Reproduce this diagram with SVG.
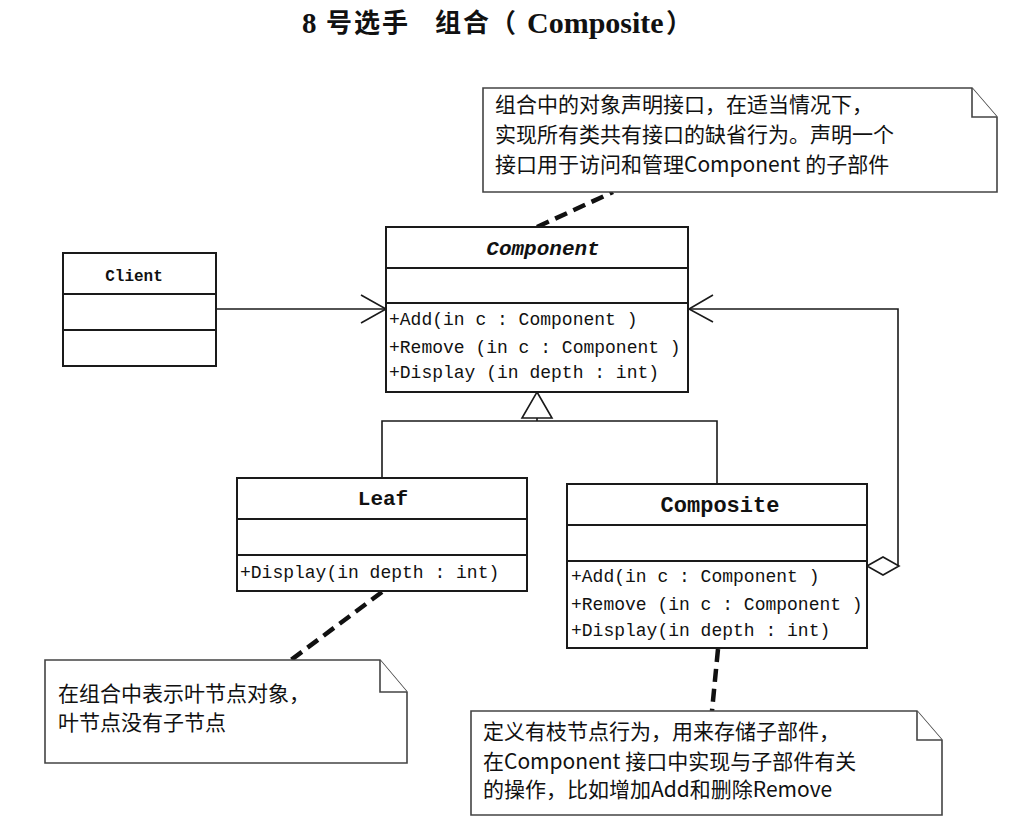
<svg xmlns="http://www.w3.org/2000/svg" width="1017" height="837" viewBox="0 0 1017 837">
<style>
.box{fill:#fff;stroke:#1a1a1a;stroke-width:2}
.div{stroke:#1a1a1a;stroke-width:2}
.note{fill:#fff;stroke:#444;stroke-width:1.6}
.line{fill:none;stroke:#1a1a1a;stroke-width:1.6}
.dash{fill:none;stroke:#111;stroke-width:4.5;stroke-dasharray:13 7}
.name{font-family:"Liberation Mono",monospace;font-weight:bold;fill:#111;text-anchor:middle}
.meth{font-family:"Liberation Mono",monospace;font-size:18px;fill:#111}
.cjk{font-family:"Noto Sans CJK SC",sans-serif;font-size:21px;fill:#111}
.tser{font-family:"Liberation Serif",serif;font-weight:bold;fill:#111}
.tcjk{font-family:"Noto Sans CJK SC",sans-serif;font-weight:bold;font-size:26px;fill:#111}
</style>
<rect width="1017" height="837" fill="#fff"/>
<g id="title">
<text class="tser" x="302" y="33" font-size="29">8</text>
<text class="tcjk" x="326" y="32" letter-spacing="2">号选手</text>
<text class="tcjk" x="435" y="32" letter-spacing="2">组合</text>
<text class="tcjk" x="490" y="32">（</text>
<text class="tser" x="527" y="33" font-size="30">Composite</text>
<text class="tcjk" x="666" y="32">）</text>
</g>
<g id="connectors">
<line class="line" x1="216" y1="309" x2="385" y2="309"/>
<polyline class="line" points="361,295 386,309 361,323"/>
<polygon points="537,392 552,418 522,418" fill="#fff" stroke="#1a1a1a" stroke-width="1.6"/>
<line class="line" x1="537" y1="418" x2="537" y2="421"/>
<polyline class="line" points="382,478 382,421 717,421 717,484"/>
<polyline class="line" points="898,566 898,309 689,309"/>
<polyline class="line" points="713,295 689,309 713,322"/>
<polygon points="867,566 883,557 899,566 883,575" fill="#fff" stroke="#1a1a1a" stroke-width="1.6"/>
<line class="dash" x1="537" y1="227" x2="613" y2="192"/>
<line class="dash" x1="382" y1="592" x2="291" y2="660"/>
<line class="dash" x1="718" y1="649" x2="712" y2="711"/>
</g>
<g id="client">
<rect class="box" x="63" y="253" width="153" height="113"/>
<line class="div" x1="63" y1="294" x2="216" y2="294"/>
<line class="div" x1="63" y1="330" x2="216" y2="330"/>
<text class="name" x="134" y="281" font-size="16">Client</text>
</g>
<g id="component">
<rect class="box" x="386" y="227" width="302" height="165"/>
<line class="div" x1="386" y1="268" x2="688" y2="268"/>
<line class="div" x1="386" y1="303" x2="688" y2="303"/>
<text class="name" x="543" y="255" font-size="21" font-style="italic">Component</text>
<text class="meth" x="389" y="325">+Add(in c : Component )</text>
<text class="meth" x="389" y="353">+Remove (in c : Component )</text>
<text class="meth" x="389" y="378">+Display (in depth : int)</text>
</g>
<g id="leaf">
<rect class="box" x="237" y="478" width="290" height="113"/>
<line class="div" x1="237" y1="519" x2="527" y2="519"/>
<line class="div" x1="237" y1="555" x2="527" y2="555"/>
<text class="name" x="383" y="505" font-size="21">Leaf</text>
<text class="meth" x="240" y="578">+Display(in depth : int)</text>
</g>
<g id="composite">
<rect class="box" x="567" y="484" width="300" height="164"/>
<line class="div" x1="567" y1="525" x2="867" y2="525"/>
<line class="div" x1="567" y1="561" x2="867" y2="561"/>
<text class="name" x="720" y="512" font-size="22">Composite</text>
<text class="meth" x="571" y="582">+Add(in c : Component )</text>
<text class="meth" x="571" y="610">+Remove (in c : Component )</text>
<text class="meth" x="571" y="636">+Display(in depth : int)</text>
</g>
<g id="note-component">
<path class="note" d="M483,88 H972 L997,117 V192 H483 Z"/>
<polyline class="note" fill="none" points="972,88 972,117 997,117"/>
<text class="cjk" x="495" y="112">组合中的对象声明接口，在适当情况下，</text>
<text class="cjk" x="495" y="142">实现所有类共有接口的缺省行为。声明一个</text>
<text class="cjk" x="495" y="172">接口用于访问和管理Component 的子部件</text>
</g>
<g id="note-leaf">
<path class="note" d="M45,660 H380 L407,692 V763 H45 Z"/>
<polyline class="note" fill="none" points="380,660 380,692 407,692"/>
<text class="cjk" x="58" y="701">在组合中表示叶节点对象，</text>
<text class="cjk" x="58" y="730">叶节点没有子节点</text>
</g>
<g id="note-composite">
<path class="note" d="M471,711 H917 L942,740 V815 H471 Z"/>
<polyline class="note" fill="none" points="917,711 917,740 942,740"/>
<text class="cjk" x="483" y="739">定义有枝节点行为，用来存储子部件，</text>
<text class="cjk" x="483" y="769">在Component 接口中实现与子部件有关</text>
<text class="cjk" x="483" y="797">的操作，比如增加Add和删除Remove</text>
</g>
</svg>
